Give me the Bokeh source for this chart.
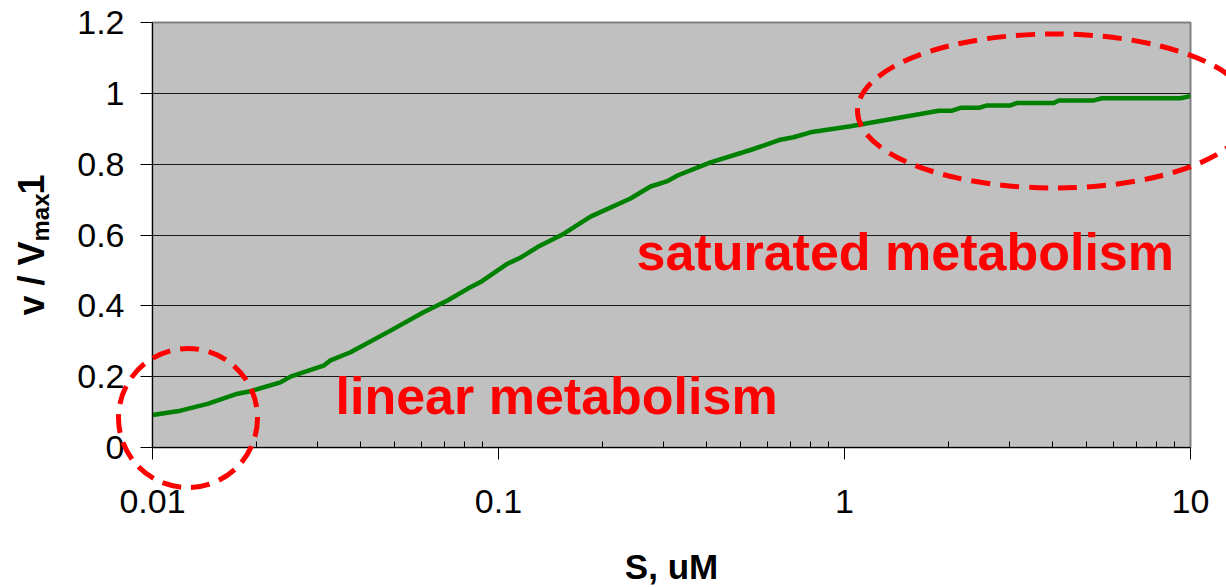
import numpy as np
from bokeh.plotting import figure
from bokeh.models import Range1d, FixedTicker, Label
from bokeh.embed import file_html
from bokeh.resources import INLINE

# Substrate concentration (uM) and fractional rate v / Vmax
s_um = [0.01, 0.01205, 0.01442, 0.01762, 0.01919, 0.02344, 0.02505, 0.03121,
        0.03269, 0.03735, 0.04875, 0.06071, 0.07123, 0.08136, 0.08872, 0.1062,
        0.1158, 0.1296, 0.1541, 0.1845, 0.2407, 0.2750, 0.3079, 0.3291, 0.4100,
        0.5350, 0.6531, 0.7123, 0.7974, 1.041, 1.873, 2.048, 2.164, 2.444,
        2.585, 3.019, 3.157, 4.027, 4.163, 5.254, 5.556, 9.357, 10.0]
v_ratio = [0.092, 0.104, 0.123, 0.152, 0.159, 0.184, 0.200, 0.231,
           0.246, 0.269, 0.330, 0.382, 0.415, 0.448, 0.467, 0.519,
           0.536, 0.566, 0.603, 0.652, 0.703, 0.737, 0.752, 0.768, 0.805,
           0.840, 0.869, 0.876, 0.890, 0.907, 0.951, 0.951, 0.959, 0.959,
           0.966, 0.966, 0.973, 0.973, 0.980, 0.980, 0.986, 0.986, 0.992]

x_ticks = [0.01, 0.1, 1, 10]
x_tick_labels = ["0.01", "0.1", "1", "10"]
y_ticks = [0, 0.2, 0.4, 0.6, 0.8, 1.0, 1.2]
y_tick_labels = ["0", "0.2", "0.4", "0.6", "0.8", "1", "1.2"]

W, H = 1226, 587
FL, FR, FT, FB = 152, 1190, 22, 447   # plot frame edges on the canvas
X_MIN, X_MAX, Y_MIN, Y_MAX = 0.01, 10, 0.0, 1.2
FONT = "Liberation Sans"
MID = 0.3465   # distance from text middle to baseline, in em


def px_to_x(px):
    lo, hi = np.log10(X_MIN), np.log10(X_MAX)
    return float(10 ** (lo + (hi - lo) * (px - FL) / (FR - FL)))


def px_to_y(py):
    return float(Y_MIN + (Y_MAX - Y_MIN) * (FB - py) / (FB - FT))


# ---- main chart: frame, axes, grid and the rate curve ----
p = figure(width=W, height=H, x_axis_type="log",
           x_range=Range1d(X_MIN, X_MAX), y_range=Range1d(Y_MIN, Y_MAX),
           output_backend="svg", toolbar_location=None,
           min_border_left=FL, min_border_right=W - FR,
           min_border_top=FT, min_border_bottom=H - FB,
           background_fill_color="#C0C0C0", border_fill_color="white",
           outline_line_color="#808080", outline_line_width=2)

minor = [m * d for d in [0.01, 0.1, 1] for m in range(2, 10)]
xa = p.xaxis[0]
xa.ticker = FixedTicker(ticks=x_ticks, minor_ticks=minor)
xa.major_label_overrides = dict(zip(x_ticks, x_tick_labels))
xa.major_label_text_font = FONT
xa.major_label_text_font_size = "34px"
xa.major_label_text_color = "black"
xa.major_label_standoff = 30
xa.major_tick_in = 0
xa.major_tick_out = 12
xa.minor_tick_in = 6
xa.minor_tick_out = 0
xa.major_tick_line_color = "black"
xa.minor_tick_line_color = "black"
xa.axis_line_color = "black"

ya = p.yaxis[0]
ya.ticker = FixedTicker(ticks=y_ticks, minor_ticks=[])
ya.major_label_overrides = dict(zip(y_ticks, y_tick_labels))
ya.major_label_text_font = FONT
ya.major_label_text_font_size = "34px"
ya.major_label_text_color = "black"
ya.major_label_standoff = 16
ya.major_tick_in = 0
ya.major_tick_out = 12
ya.minor_tick_line_color = None
ya.major_tick_line_color = "black"
ya.axis_line_color = "black"

p.xgrid.visible = False
p.ygrid.ticker = FixedTicker(ticks=y_ticks)
p.ygrid.grid_line_color = "#1a1a1a"
p.ygrid.grid_line_width = 1

p.line(s_um, v_ratio, line_color="#008000", line_width=4.5)

# ---- overlay spanning the whole canvas, same scales extended to the edges ----
ov = figure(width=W, height=H, x_axis_type="log",
            x_range=Range1d(px_to_x(0), px_to_x(W)),
            y_range=Range1d(px_to_y(H), px_to_y(0)),
            x_axis_location=None, y_axis_location=None,
            output_backend="svg", toolbar_location=None,
            min_border=0, min_border_left=0, min_border_right=0,
            min_border_top=0, min_border_bottom=0,
            background_fill_alpha=0, border_fill_alpha=0,
            outline_line_color=None,
            styles={"position": "absolute", "top": "0px", "left": "0px"})
ov.grid.visible = False

# dashed rings marking the two regimes
ring_cx = [px_to_x(187.5), px_to_x(1054)]
ring_cy = [px_to_y(417.5), px_to_y(110.5)]
ov.ellipse(x=ring_cx, y=ring_cy, width=[139, 394], height=[139, 154],
           width_units="screen", height_units="screen",
           fill_color=None, line_color="#FF0000", line_width=5,
           line_dash="19 10")


def text(px, baseline_py, s, size, color="black", bold=True, align="left"):
    ov.add_layout(Label(x=px_to_x(px), y=px_to_y(baseline_py - MID * size),
                        text=s, text_font=FONT, text_font_size=f"{size}px",
                        text_font_style="bold" if bold else "normal",
                        text_color=color, text_align=align,
                        text_baseline="middle"))


text(335, 414, "linear metabolism", 52, color="#FF0000")
text(636, 270, "saturated metabolism", 52, color="#FF0000")
text(671, 578, "S, uM", 35, align="center")


def vtext(baseline_px, start_py, s, size):
    ov.add_layout(Label(x=px_to_x(baseline_px - MID * size), y=px_to_y(start_py),
                        text=s, angle=np.pi / 2, text_font=FONT,
                        text_font_size=f"{size}px", text_font_style="bold",
                        text_color="black", text_align="left",
                        text_baseline="middle"))


vtext(43, 315, "v / V", 36)
vtext(48, 241, "max", 24)
vtext(43, 194, "1", 36)

open("out.html", "w").write(file_html([p, ov], INLINE))
